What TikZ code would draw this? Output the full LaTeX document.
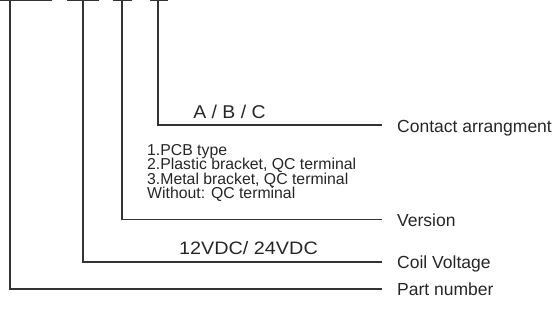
\documentclass[tikz,border=0pt]{standalone}
\usepackage{fontspec}
\setmainfont{Liberation Sans}
\begin{document}
\begin{tikzpicture}[x=1pt,y=-1pt,
  ln/.style={draw=black!80, line width=1.2pt},
  lbl/.style={anchor=base west, inner sep=0pt, font=\fontsize{17.5}{20}\selectfont, text=black!85},
  mid/.style={anchor=base, inner sep=0pt, text=black!85},
  lst/.style={anchor=base west, inner sep=0pt, font=\fontsize{15.8}{14.5}\selectfont, text=black!85}]
\useasboundingbox (0,0) rectangle (553,327);
% top bars
\coordinate (b1l) at (0,0.8);   \coordinate (b1r) at (52,0.8);
\coordinate (b2l) at (67,0.8);  \coordinate (b2r) at (99,0.8);
\coordinate (b3l) at (113,0.8); \coordinate (b3r) at (132,0.8);
\coordinate (b4l) at (150,0.8); \coordinate (b4r) at (168,0.8);
\draw[ln] (b1l) -- (b1r);
\draw[ln] (b2l) -- (b2r);
\draw[ln] (b3l) -- (b3r);
\draw[ln] (b4l) -- (b4r);
\coordinate (v1) at (10,0.8);
\coordinate (v2) at (83,0.8);
\coordinate (v3) at (122,0.8);
\coordinate (v4) at (158,0.8);
% line ends
\coordinate (e4) at (382,125);
\coordinate (e3) at (382,219.5);
\coordinate (e2) at (382,262);
\coordinate (e1) at (382,289);
\draw[ln] (v4) |- (e4);
\draw[ln] (v3) |- (e3);
\draw[ln] (v2) |- (e2);
\draw[ln] (v1) |- (e1);
% labels
\node[lbl] (lca) at (397,132) {Contact arrangment};
\node[lbl] (lver) at (397,226) {Version};
\node[lbl] (lcoil) at (397,268.5) {Coil Voltage};
\node[lbl] (lpart) at (397,295.5) {Part number};
% texts above lines
\node[mid, font=\fontsize{18.5}{20}\selectfont, xscale=1.05] (abc) at (229.5,118) {A / B / C};
\node[mid, font=\fontsize{18}{20}\selectfont, xscale=1.1] (volt) at (248.5,254) {12VDC/ 24VDC};
\node[lst] (l1) at (147,155) {1.PCB type};
\node[lst] (l2) at (147,169.5) {2.Plastic bracket, QC terminal};
\node[lst] (l3) at (147,184) {3.Metal bracket, QC terminal};
\node[lst] (l4) at (147,198.5) {Without: QC terminal};
\end{tikzpicture}
\end{document}
